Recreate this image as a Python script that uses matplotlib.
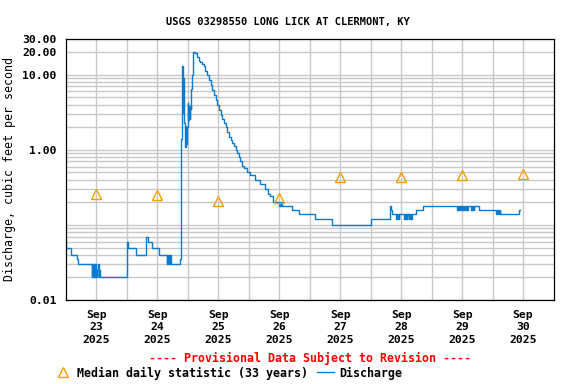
import matplotlib
matplotlib.use("Agg")
import matplotlib.pyplot as plt
from matplotlib.lines import Line2D

# discharge, hours after 2025-09-23 00:00, cubic feet per second (step data)
hours = [
    0.0, 0.25, 2.25, 4.5, 4.75,
    10.25, 10.5, 10.75, 11.0, 11.25, 11.5, 11.75, 12.0, 12.25, 12.5, 12.75, 13.0, 13.25, 13.5,
    24.0, 24.5, 27.75, 31.5, 31.75, 32.5, 34.0, 36.75,
    39.75, 40.0, 40.25, 40.5, 40.75, 41.0, 41.25, 45.0,
    45.5, 45.75, 46.0, 46.25, 46.5, 46.75, 47.0, 47.25, 47.5, 47.75, 48.0, 48.25,
    48.5, 48.75, 49.0, 49.25, 49.5, 49.75, 50.0, 50.25, 50.5, 50.75,
    51.0, 51.75, 52.5, 53.0, 53.75, 54.5, 55.0, 55.75, 56.5, 57.0, 57.75, 58.25,
    59.0, 59.5, 60.25, 61.0, 61.5, 62.25, 63.0, 63.5, 64.25, 65.0, 65.5, 66.25,
    67.0, 67.5, 68.25, 68.75, 69.5, 70.0, 71.25, 72.5, 74.5, 76.5, 78.5, 79.75,
    80.5, 81.75, 84.0, 84.25, 84.5, 84.75, 85.0, 89.25, 92.0, 98.0, 104.75, 120.0,
    127.75, 128.0, 128.25,
    130.0, 130.25, 130.5, 130.75, 131.0, 131.25,
    133.25, 133.5, 133.75, 134.0, 134.25, 134.5,
    135.0, 135.25, 135.5, 135.75, 136.0, 136.25,
    137.75, 140.75,
    154.0, 154.25, 154.5, 154.75, 155.0, 155.25, 155.5, 155.75, 156.0, 156.25,
    156.5, 156.75, 157.0, 157.25, 157.5, 157.75, 158.0, 158.25, 158.5,
    159.5, 159.75, 160.0, 160.25, 160.5, 160.75,
    162.75,
    169.5, 169.75, 170.0, 170.25, 170.5, 170.75, 171.0,
    178.5, 178.75,
]
discharge = [
    0.06, 0.05, 0.04, 0.035, 0.03,
    0.02, 0.03, 0.02, 0.03, 0.02, 0.03, 0.02, 0.025, 0.02, 0.025, 0.03, 0.02, 0.025, 0.02,
    0.06, 0.05, 0.04, 0.05, 0.07, 0.06, 0.05, 0.04,
    0.03, 0.04, 0.03, 0.04, 0.03, 0.04, 0.03, 0.035,
    1.4, 12.9, 3.1, 9.0, 4.0, 2.3, 1.1, 2.1, 1.2, 2.0, 4.2, 2.5,
    3.8, 2.6, 3.8, 3.5, 6.4, 10.0, 15.5, 20.3, 20.3, 19.8,
    19.5, 17.5, 15.5, 14.8, 14.0, 12.9, 11.4, 10.0, 8.6, 7.4, 6.3, 5.4,
    4.6, 4.0, 3.4, 2.9, 2.6, 2.27, 1.99, 1.75, 1.5, 1.36, 1.23, 1.11,
    1.0, 0.90, 0.80, 0.70, 0.61, 0.57, 0.51, 0.46, 0.40, 0.35, 0.30, 0.26,
    0.24, 0.20, 0.18, 0.20, 0.18, 0.20, 0.18, 0.16, 0.14, 0.12, 0.10, 0.12,
    0.18, 0.16, 0.14,
    0.12, 0.14, 0.12, 0.14, 0.12, 0.14,
    0.12, 0.14, 0.12, 0.14, 0.12, 0.14,
    0.12, 0.14, 0.12, 0.14, 0.12, 0.14,
    0.16, 0.18,
    0.16, 0.18, 0.16, 0.18, 0.16, 0.18, 0.16, 0.18, 0.16, 0.18,
    0.16, 0.18, 0.16, 0.18, 0.16, 0.18, 0.16, 0.18, 0.18,
    0.16, 0.18, 0.16, 0.18, 0.16, 0.18,
    0.16,
    0.14, 0.16, 0.14, 0.16, 0.14, 0.16, 0.14,
    0.16, 0.16,
]

# median daily statistic, plotted at noon
median_hours = [12, 36, 60, 84, 108, 132, 156, 180]
median_vals = [0.26, 0.25, 0.21, 0.23, 0.44, 0.44, 0.46, 0.47]

day_labels = ["Sep\n23\n2025", "Sep\n24\n2025", "Sep\n25\n2025", "Sep\n26\n2025",
              "Sep\n27\n2025", "Sep\n28\n2025", "Sep\n29\n2025", "Sep\n30\n2025"]
ytick_vals = [0.01, 1, 10, 20, 30]
ytick_labels = ["0.01", "1.00", "10.00", "20.00", "30.00"]

plt.rcParams['font.family'] = ['DejaVu Sans Mono']
plt.rcParams['font.weight'] = 'bold'

blue = '#0a7bd0'
orange = '#f5a000'

fig = plt.figure(figsize=(5.76, 3.84), dpi=100)
ax = fig.add_axes([0.1141, 0.2188, 0.8469, 0.6797])

ax.plot(hours, discharge, drawstyle='steps-post', color=blue, lw=1.0)
ax.plot(median_hours, median_vals, ls='none', marker='^', ms=7,
        mfc='none', mec=orange, mew=1.0)

ax.set_yscale('log')
ax.set_ylim(0.01, 30)
ax.set_xlim(0, 192)

ax.set_yticks(ytick_vals)
ax.set_yticklabels(ytick_labels)
ax.set_yticks([0.02, 0.03, 0.04, 0.05, 0.06, 0.07, 0.08, 0.09,
               0.1, 0.2, 0.3, 0.4, 0.5, 0.6, 0.7, 0.8, 0.9,
               2, 3, 4, 5, 6, 7, 8, 9], minor=True)
ax.yaxis.set_minor_formatter(plt.NullFormatter())

ax.set_xticks([24, 48, 72, 96, 120, 144, 168])
ax.set_xticklabels([])
ax.set_xticks(median_hours, minor=True)
ax.set_xticklabels(day_labels, minor=True, fontsize=8.2, linespacing=1.3)

ax.tick_params(axis='both', which='both', length=0)
ax.tick_params(axis='y', labelsize=8.2, pad=6.5)
ax.tick_params(axis='x', which='minor', pad=7)

ax.grid(True, which='both', color='#c8c8c8', lw=1.0)
ax.set_axisbelow(True)
for s in ax.spines.values():
    s.set_linewidth(0.9)
    s.set_color('black')

ax.set_ylabel('Discharge, cubic feet per second', fontsize=8.4, labelpad=4.5)

fig.text(0.5, 0.935, 'USGS 03298550 LONG LICK AT CLERMONT, KY',
         ha='center', va='baseline', fontsize=7.5)
fig.text(0.5375, 0.056, '---- Provisional Data Subject to Revision ----',
         ha='center', va='baseline', fontsize=8.4, color='red')

handles = [Line2D([], [], ls='none', marker='^', ms=7, mfc='none', mec=orange, mew=1.0),
           Line2D([], [], color=blue, lw=1.0)]
ax.legend(handles, ['Median daily statistic (33 years)', 'Discharge'],
          loc='lower left', bbox_to_anchor=(0.094, 0.0117), bbox_transform=fig.transFigure,
          ncol=2, frameon=False, borderpad=0, borderaxespad=0, handlelength=1.45,
          handletextpad=0.5, columnspacing=0.75, fontsize=8.4)

fig.savefig('out.png', dpi=100)
